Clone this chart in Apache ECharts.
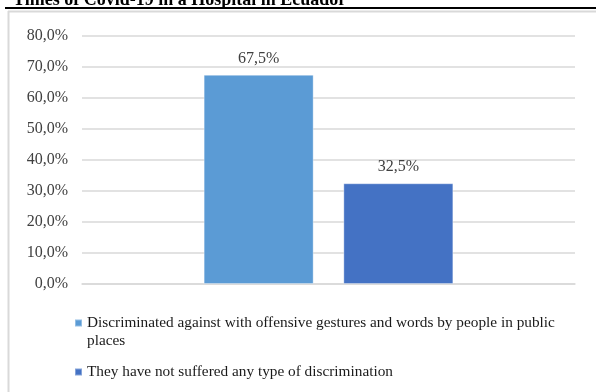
<!DOCTYPE html>
<html>
<head>
<meta charset="utf-8">
<script src="https://cdn.jsdelivr.net/npm/echarts@6/dist/echarts.min.js"></script>
<style>
    html, body { margin: 0; padding: 0; background: #fff; }
    #chart { width: 596px; height: 392px; }
</style>
</head>
<body>
<div id="chart"></div>
<script>
// 数据
var categories = [''];
var seriesNames = [
    'Discriminated against with offensive gestures and words by people in public places',
    'They have not suffered any type of discrimination'
];
var seriesValues = [[0.675], [0.325]];
var seriesColors = ['#5B9BD5', '#4472C4'];
var yTicks = [0, 0.1, 0.2, 0.3, 0.4, 0.5, 0.6, 0.7, 0.8];

var FONT = '"Liberation Serif", "DejaVu Serif", serif';

/**
 * 百分比格式 (逗号小数)
 */
function pct(v) {
    return (v * 100).toFixed(1).replace('.', ',') + '%';
}

var myChart = echarts.init(document.getElementById('chart'));
var option = {
    animation: false,
    title: {
        text: 'Times of Covid-19 in a Hospital in Ecuador',
        left: 8,
        top: -14,
        textStyle: { fontFamily: FONT, fontSize: 18, fontWeight: 'bold', color: '#000' }
    },
    graphic: [
        { type: 'line', shape: { x1: 5, y1: 8, x2: 596, y2: 8 }, style: { stroke: '#000', lineWidth: 2 } },
        { type: 'line', shape: { x1: 8.5, y1: 11, x2: 8.5, y2: 392 }, style: { stroke: '#d9d9d9', lineWidth: 2 } },
        { type: 'line', shape: { x1: 8, y1: 11.5, x2: 596, y2: 11.5 }, style: { stroke: '#d9d9d9', lineWidth: 2 } }
    ],
    legend: [{
        data: [seriesNames[0]],
        orient: 'vertical',
        left: 69,
        top: 291,
        itemWidth: 7,
        itemHeight: 7,
        itemGap: 4,
        icon: 'rect',
        formatter: function () {
            return '\nDiscriminated against with offensive gestures and words by people in public\nplaces';
        },
        textStyle: { fontFamily: FONT, fontSize: 15.3, lineHeight: 18, color: '#1a1a1a' }
    }, {
        data: [seriesNames[1]],
        orient: 'vertical',
        left: 69,
        top: 358,
        itemWidth: 7,
        itemHeight: 7,
        itemGap: 4,
        icon: 'rect',
        textStyle: { fontFamily: FONT, fontSize: 15.3, lineHeight: 18, color: '#1a1a1a' }
    }],
    grid: { left: 82, right: 21, top: 36, bottom: 108 },
    xAxis: {
        type: 'category',
        data: categories,
        axisLine: { lineStyle: { color: '#d9d9d9', width: 1.5 } },
        axisTick: { show: false },
        axisLabel: { show: false }
    },
    yAxis: {
        type: 'value',
        min: yTicks[0],
        max: yTicks[yTicks.length - 1],
        interval: 0.1,
        axisLine: { show: false },
        axisTick: { show: false },
        splitLine: { lineStyle: { color: '#d9d9d9', width: 1.5 } },
        axisLabel: {
            margin: 14,
            fontFamily: FONT,
            fontSize: 16,
            color: '#404040',
            formatter: pct
        }
    },
    series: seriesNames.map(function (name, i) {
        return {
            name: name,
            type: 'bar',
            data: seriesValues[i],
            barWidth: 110,
            barGap: '27%',
            itemStyle: { color: seriesColors[i], borderColor: 'rgba(255,255,255,0.35)', borderWidth: 1 },
            label: {
                show: true,
                position: 'top',
                distance: 8,
                fontFamily: FONT,
                fontSize: 16,
                color: '#404040',
                formatter: function (p) { return pct(p.value); }
            }
        };
    })
};
myChart.setOption(option, true);
</script>
</body>
</html>
